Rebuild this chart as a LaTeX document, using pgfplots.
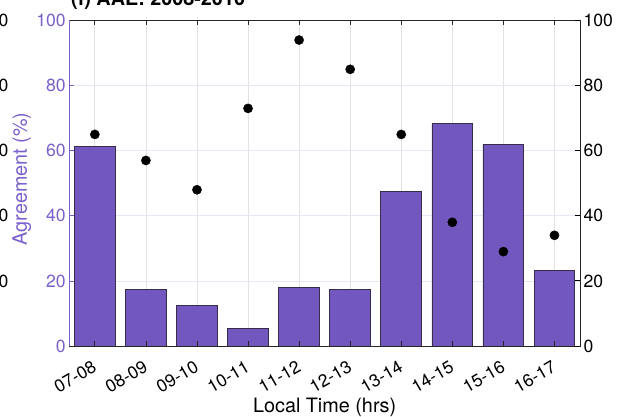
\documentclass[border=0pt]{standalone}
\usepackage{pgfplots}
\pgfplotsset{compat=1.18}
\usepackage{fontspec}
\setmainfont{TeX Gyre Heros}

\definecolor{barfill}{RGB}{114,88,190}
\definecolor{baredge}{RGB}{55,45,75}
\definecolor{leftcol}{RGB}{122,96,204}
\definecolor{frame}{RGB}{38,38,38}
\definecolor{xgrid}{RGB}{226,226,226}
\definecolor{ygrid}{RGB}{233,229,246}

\tikzset{frag/.style={anchor=east, inner sep=0pt, xshift=-60.8bp,
    font=\fontsize{17.6bp}{20bp}\selectfont}}

\begin{document}
\begin{tikzpicture}
\pgfplotsset{
  base/.style={
    scale only axis, width=510.7bp, height=325.5bp,
    xmin=0.5, xmax=10.5, ymin=0, ymax=100,
    xtick={1,...,10}, ytick={0,20,...,100},
    /pgf/number format/assume math mode=true,
    tick label style={font=\fontsize{17.6bp}{20bp}\selectfont},
    label style={font=\fontsize{19.8bp}{22bp}\selectfont},
    major tick length=5bp, tick align=inside,
  },
}
% grid lines and bars
\begin{axis}[base, grid=major,
  x grid style={color=xgrid, line width=0.7bp},
  y grid style={color=ygrid, line width=0.7bp},
  axis line style={draw=none}, xticklabels={}, yticklabels={},
  major tick length=0pt]
\addplot[ybar, bar width=0.8, bar shift=0pt, fill=barfill, draw=baredge, line width=0.8bp]
  coordinates {(1,61.4) (2,17.4) (3,12.4) (4,5.4) (5,18.0) (6,17.4) (7,47.5) (8,68.4) (9,62.0) (10,23.3)};
\end{axis}
% frame, x axis and left y axis
\begin{axis}[base, clip=false,
  axis line style={draw=frame, line width=0.8bp},
  xtick pos=both, ytick pos=left,
  x tick style={draw=frame, line width=0.8bp},
  y tick style={draw=leftcol, line width=0.8bp},
  xticklabels={07-08,08-09,09-10,10-11,11-12,12-13,13-14,14-15,15-16,16-17},
  xticklabel style={rotate=30, anchor=east, inner sep=0pt},
  xticklabel shift=19.5bp,
  yticklabel style={color=leftcol},
  xlabel={Local Time (hrs)},
  xlabel style={at={(axis description cs:0.5,0)}, anchor=base, yshift=-66bp},
  ylabel={Agreement (\%)},
  ylabel style={color=leftcol, at={(axis description cs:-0.0932,0.513)}, anchor=center}]
\draw[leftcol, line width=0.8bp] (rel axis cs:0,0) -- (rel axis cs:0,1);
\node[anchor=base west, inner sep=0pt, xshift=1.7bp, yshift=14.5bp,
  font=\bfseries\fontsize{19.8bp}{22bp}\selectfont] at (rel axis cs:0,1) {(f) AAE: 2008-2010};
\node[frag] at (rel axis cs:0,0.2) {0};
\node[frag] at (rel axis cs:0,0.4) {0};
\node[frag] at (rel axis cs:0,0.6) {0};
\node[frag] at (rel axis cs:0,0.8) {0};
\node[frag] at (rel axis cs:0,1) {0};
\end{axis}
% right y axis with the dots
\begin{axis}[base, axis x line=none, axis y line*=right,
  axis line style={draw=frame, line width=0.8bp},
  y tick style={draw=black, line width=0.8bp},
  yticklabel style={color=black}]
\addplot[only marks, mark=*, mark size=4.6bp, black]
  coordinates {(1,65) (2,57) (3,48) (4,73) (5,94) (6,85) (7,65) (8,38) (9,29) (10,34)};
\end{axis}
\pgfresetboundingbox
\path[use as bounding box] (-69.3bp,-71bp) rectangle (548.7bp,346bp);
\end{tikzpicture}
\end{document}
